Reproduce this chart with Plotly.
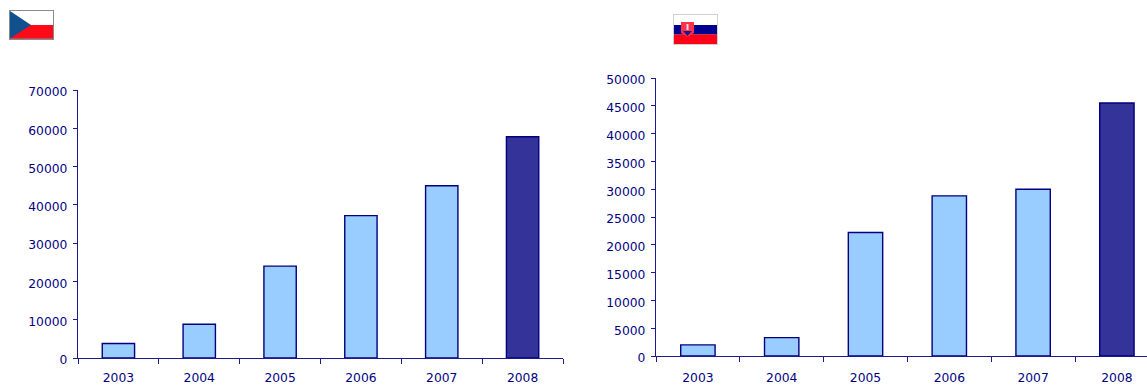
import plotly.graph_objects as go

W, H = 1147, 385
years = ["2003", "2004", "2005", "2006", "2007", "2008"]
cz_values = [3800, 8800, 24000, 37200, 45000, 57800]
sk_values = [2000, 3300, 22200, 28800, 30000, 45500]
bar_colors = ["#99CCFF"] * 5 + ["#333399"]
NAVY = "#000080"
AXIS = "#1B1B8F"

def px(x): return x / W
def py(y): return 1 - y / H

fig = go.Figure()
fig.add_bar(x=years, y=cz_values, xaxis="x", yaxis="y", width=0.40,
            marker=dict(color=bar_colors, line=dict(color=NAVY, width=1.4)), showlegend=False)
fig.add_bar(x=years, y=sk_values, xaxis="x2", yaxis="y2", width=0.41,
            marker=dict(color=bar_colors, line=dict(color=NAVY, width=1.4)), showlegend=False)

font = dict(family="DejaVu Sans", size=12.3, color=NAVY)
xcommon = dict(type="category", categoryorder="array", categoryarray=years, tickson="boundaries",
               ticks="outside", ticklen=5, tickwidth=1.3, tickcolor=AXIS, showline=True,
               linecolor=AXIS, linewidth=1.3, showgrid=False, zeroline=False,
               tickfont=font, automargin=False)
ycommon = dict(ticks="outside", ticklen=4, tickwidth=1.3, tickcolor=AXIS, showline=True,
               linecolor=AXIS, linewidth=1.3, showgrid=False, zeroline=False, tickfont=font,
               tickformat="d", automargin=False, ticklabelstandoff=3, ticklabelshift=2)

right_span = (W - 656) / 83.8 - 0.5

shapes = []
def rect(x0, y0, x1, y1, color):
    shapes.append(dict(type="rect", xref="paper", yref="paper", x0=px(x0), x1=px(x1), y0=py(y0), y1=py(y1),
                       fillcolor=color, line=dict(width=0), layer="above"))
def poly(points, color):
    d = "M " + " L ".join(f"{px(a):.5f},{py(b):.5f}" for a, b in points) + " Z"
    shapes.append(dict(type="path", xref="paper", yref="paper", path=d, fillcolor=color,
                       line=dict(width=0), layer="above"))

# Czech flag
rect(9, 10, 54, 40, "#8A8A8A")
rect(10, 11, 53, 25, "#FFFFFF")
rect(10, 25, 53, 38.5, "#FF0A18")
poly([(10, 11), (31, 25), (10, 38.5)], "#10508C")
# Slovak flag
rect(673, 14, 718, 45, "#D0D0D0")
rect(674, 15, 717, 25, "#FFFFFF")
rect(674, 25, 717, 34.5, "#000090")
rect(674, 34.5, 717, 44, "#FF0018")
poly([(681, 22), (694, 22), (694, 33), (687.5, 37), (681, 33)], "#FF3048")
poly([(683, 31), (692, 31), (687.5, 36)], "#1A1A90")
rect(686.5, 24, 688.5, 30, "#F8D8E0")

fig.update_layout(
    width=W, height=H, autosize=False,
    margin=dict(l=0, r=0, t=0, b=0, pad=0, autoexpand=False),
    paper_bgcolor="white", plot_bgcolor="white", bargap=0.59, shapes=shapes,
    xaxis=dict(domain=[px(78), px(563)], anchor="y", range=[-0.5, 5.5], ticklabelstandoff=8, **xcommon),
    yaxis=dict(domain=[py(358), py(90)], anchor="x", range=[0, 70000], dtick=10000, **ycommon),
    xaxis2=dict(domain=[px(656), 1], anchor="y2", range=[-0.5, right_span], ticklabelstandoff=10, **xcommon),
    yaxis2=dict(domain=[py(356), py(78)], anchor="x2", range=[0, 50000], dtick=5000, **ycommon),
)
fig.write_html("out.html", config=dict(displayModeBar=False),
               post_script="document.body.style.margin='0';document.documentElement.style.overflow='hidden';")
